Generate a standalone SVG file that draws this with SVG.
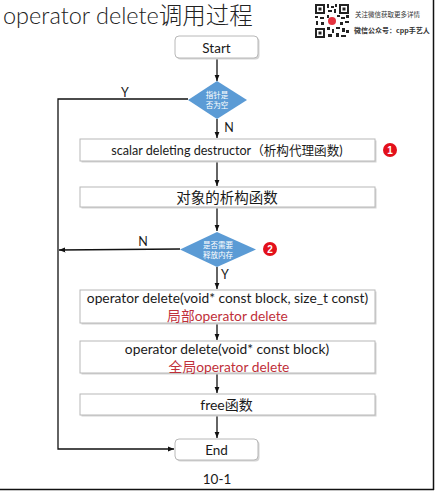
<svg xmlns="http://www.w3.org/2000/svg" width="435" height="491" viewBox="0 0 435 491">
<defs>
<style>
.box{fill:#fff;stroke:#b8b8b8;stroke-width:1}
.shadow{fill:#d4d4d4}
.dia{fill:#5b9bd5}
.t{font-family:Lato,"Noto Sans","Noto Sans CJK SC",sans-serif;fill:#1a1a1a;text-anchor:middle}
.red{fill:#c0303a}
.dt{font-family:"Noto Sans CJK SC",serif;fill:#fff;font-size:7.5px;text-anchor:middle}
.ln{fill:none;stroke:#111;stroke-width:1.3}
.badge{fill:#e3101b}
.bt{font-family:"Liberation Sans",sans-serif;fill:#fff;font-size:10px;font-weight:bold;text-anchor:middle}
.qr{fill:#222}
</style>
<marker id="ah" viewBox="0 0 10 10" refX="10" refY="5" markerWidth="5" markerHeight="5" orient="auto">
<path d="M0,1 L10,5 L0,9 z" fill="#111"/>
</marker>
</defs>
<rect width="435" height="491" fill="#fff"/>
<line x1="433.5" y1="0" x2="433.5" y2="490" stroke="#111" stroke-width="1.5"/>
<line x1="0" y1="489.5" x2="434" y2="489.5" stroke="#111" stroke-width="1.5"/>

<g id="title">
<text x="3" y="24" font-family="Lato,'Noto Sans CJK SC',sans-serif" font-size="23.5" font-weight="300" fill="#222">operator delete调用过程</text>
</g>

<g id="qrcode">
<rect x="315" y="4" width="34" height="34" fill="#fff"/>
<rect x="315" y="4" width="10" height="10" class="qr"/><rect x="317" y="6" width="6" height="6" fill="#fff"/><rect x="318.5" y="7.5" width="3" height="3" class="qr"/>
<rect x="339" y="4" width="10" height="10" class="qr"/><rect x="341" y="6" width="6" height="6" fill="#fff"/><rect x="342.5" y="7.5" width="3" height="3" class="qr"/>
<rect x="315" y="28" width="10" height="10" class="qr"/><rect x="317" y="30" width="6" height="6" fill="#fff"/><rect x="318.5" y="31.5" width="3" height="3" class="qr"/>
<g class="qr">
<rect x="327" y="4" width="2" height="4"/><rect x="331" y="6" width="3" height="2"/><rect x="335" y="4" width="2" height="3"/><rect x="328" y="10" width="4" height="2"/><rect x="334" y="9" width="2" height="4"/>
<rect x="315" y="16" width="3" height="2"/><rect x="320" y="17" width="4" height="2"/><rect x="316" y="21" width="2" height="4"/><rect x="321" y="22" width="3" height="3"/>
<rect x="327" y="15" width="2" height="3"/><rect x="337" y="15" width="3" height="2"/><rect x="341" y="17" width="4" height="2"/><rect x="346" y="15" width="3" height="3"/>
<rect x="340" y="22" width="3" height="3"/><rect x="345" y="21" width="4" height="2"/><rect x="327" y="27" width="3" height="3"/><rect x="332" y="29" width="2" height="4"/>
<rect x="336" y="27" width="4" height="2"/><rect x="342" y="28" width="3" height="4"/><rect x="346" y="30" width="3" height="3"/><rect x="328" y="34" width="4" height="3"/>
<rect x="336" y="33" width="3" height="4"/><rect x="341" y="35" width="5" height="2"/>
</g>
<circle cx="332" cy="21" r="4" fill="#e4323e"/>
<text x="355" y="17" font-family="'Noto Sans CJK SC',sans-serif" font-size="6.5" fill="#333">关注微信获取更多详情</text>
<text x="354" y="33" font-family="'Noto Sans CJK SC',sans-serif" font-size="7" font-weight="bold" fill="#333">微信公众号：cpp手艺人</text>
</g>

<g id="connectors">
<line class="ln" x1="217" y1="58" x2="217" y2="81" marker-end="url(#ah)"/>
<polyline class="ln" points="188,99 58,99 58,449 174,449" marker-end="url(#ah)"/>
<line class="ln" x1="217" y1="119" x2="217" y2="138" marker-end="url(#ah)"/>
<line class="ln" x1="217" y1="162" x2="217" y2="186" marker-end="url(#ah)"/>
<line class="ln" x1="217" y1="208" x2="217" y2="231" marker-end="url(#ah)"/>
<line class="ln" x1="180" y1="249" x2="59" y2="250" marker-end="url(#ah)"/>
<line class="ln" x1="217" y1="267" x2="217" y2="289" marker-end="url(#ah)"/>
<line class="ln" x1="217" y1="324" x2="217" y2="340" marker-end="url(#ah)"/>
<line class="ln" x1="217" y1="374" x2="217" y2="393" marker-end="url(#ah)"/>
<line class="ln" x1="217" y1="416" x2="217" y2="438" marker-end="url(#ah)"/>
<text class="t" x="125" y="97" font-size="12.5">Y</text>
<text class="t" x="229" y="132" font-size="12.5">N</text>
<text class="t" x="143" y="246" font-size="12.5">N</text>
<text class="t" x="225" y="279" font-size="12.5">Y</text>
</g>

<g id="start">
<rect class="shadow" x="176.5" y="37.5" width="83" height="22" rx="4"/>
<rect class="box" x="175" y="36" width="83" height="22" rx="4"/>
<text class="t" x="216.5" y="52.5" font-size="13.5">Start</text>
</g>

<g id="isnull">
<polygon class="dia" points="217,81 247,100 217,119 188,100"/>
<text class="dt" x="217" y="97.5" font-size="7">指针是</text>
<text class="dt" x="217" y="107.5" font-size="7">否为空</text>
</g>

<g id="scalar">
<rect class="shadow" x="81.5" y="140.5" width="295" height="22"/>
<rect class="box" x="80" y="139" width="295" height="22"/>
<text class="t" x="227" y="155" font-size="12.6">scalar deleting destructor（析构代理函数)</text>
</g>
<g id="badge1">
<circle class="badge" cx="390" cy="150" r="7"/>
<text class="bt" x="390" y="154">1</text>
</g>

<g id="dtor">
<rect class="shadow" x="81.5" y="188.5" width="295" height="20"/>
<rect class="box" x="80" y="187" width="295" height="20"/>
<text class="t" x="227" y="202.5" font-size="14.5" font-family="'Noto Sans CJK SC',serif">对象的析构函数</text>
</g>

<g id="needfree">
<polygon class="dia" points="217,232 256,249.5 217,267 180,249.5"/>
<text class="dt" x="218" y="248">是否需要</text>
<text class="dt" x="218" y="258">释放内存</text>
</g>
<g id="badge2">
<circle class="badge" cx="270" cy="249" r="7"/>
<text class="bt" x="270" y="253">2</text>
</g>

<g id="localdelete">
<rect class="shadow" x="81.5" y="291.5" width="295" height="33"/>
<rect class="box" x="80" y="290" width="295" height="33"/>
<text class="t" x="227.5" y="303" font-size="13.8">operator delete(void* const block, size_t const)</text>
<text class="t red" x="227.5" y="320.5" font-size="13.8">局部operator delete</text>
</g>

<g id="globaldelete">
<rect class="shadow" x="81.5" y="342.5" width="295" height="32"/>
<rect class="box" x="80" y="341" width="295" height="32"/>
<text class="t" x="227" y="354" font-size="13.8">operator delete(void* const block)</text>
<text class="t red" x="229" y="371.5" font-size="13.8">全局operator delete</text>
</g>

<g id="free">
<rect class="shadow" x="81.5" y="395.5" width="295" height="21"/>
<rect class="box" x="80" y="394" width="295" height="21"/>
<text class="t" x="226.5" y="409.5" font-size="14">free函数</text>
</g>

<g id="end">
<rect class="shadow" x="176.5" y="440.5" width="83" height="21" rx="4"/>
<rect class="box" x="175" y="439" width="83" height="21" rx="4"/>
<text class="t" x="216.5" y="455" font-size="13.5">End</text>
</g>

<g id="caption">
<text class="t" x="217" y="484" font-size="13.5">10-1</text>
</g>
</svg>
